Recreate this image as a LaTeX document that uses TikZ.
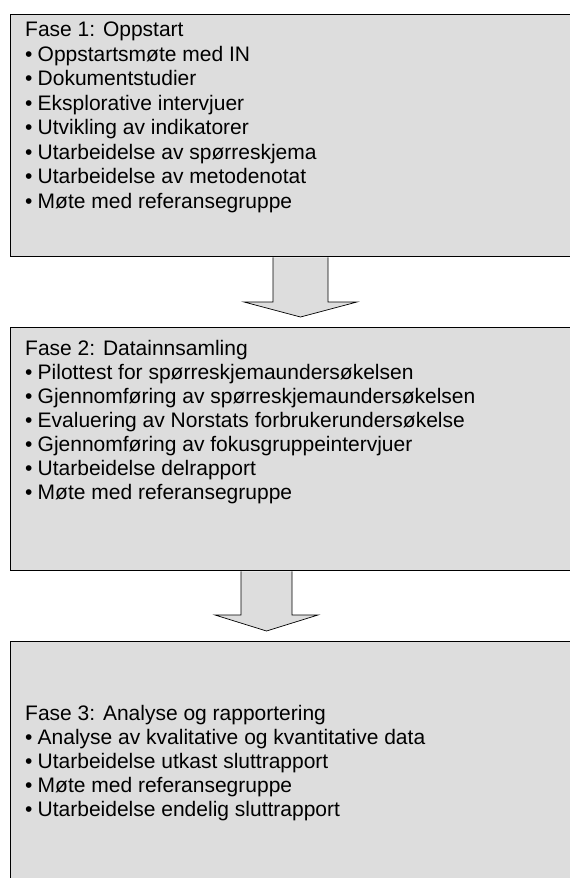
\documentclass[tikz,border=0pt]{standalone}
\usepackage{fontspec}
\setmainfont{Liberation Sans}
\usetikzlibrary{positioning}

\definecolor{boxgray}{HTML}{DDDDDD}
\newcommand{\pkt}{\makebox[12.5pt][l]{•}}

\begin{document}
\begin{tikzpicture}[
          x=1pt, y=-1pt,
          phase/.style={rectangle, draw, line width=1.3pt, fill=boxgray, anchor=north west, minimum width=620pt, inner sep=0pt},
          phasetext/.style={anchor=base west, align=left, inner sep=0pt, font=\fontsize{21}{24}\selectfont},
          blockarrow/.style={draw, line width=0.7pt, fill=boxgray, line join=miter}
      ]
      \useasboundingbox (0,0) rectangle (570,878);
      \clip (0,0) rectangle (570,878);

      % the three phases
      \node[phase, minimum height=242.5pt] (fase1) at (10,13.5) {};
      \node[phase, minimum height=243pt] (fase2) at (10,327) {};
      \node[phase, minimum height=250pt] (fase3) at (10,641) {};

      % text nodes are placed by the baseline of their last line
      \node[phasetext, font=\fontsize{21}{24.5}\selectfont] (tekst1) at (25,208) {Fase 1: Oppstart\\
          \pkt Oppstartsmøte med IN\\
          \pkt Dokumentstudier\\
          \pkt Eksplorative intervjuer\\
          \pkt Utvikling av indikatorer\\
          \pkt Utarbeidelse av spørreskjema\\
          \pkt Utarbeidelse av metodenotat\\
          \pkt Møte med referansegruppe};

      \node[phasetext] (tekst2) at (25,499) {Fase 2: Datainnsamling\\
          \pkt Pilottest for spørreskjemaundersøkelsen\\
          \pkt Gjennomføring av spørreskjemaundersøkelsen\\
          \pkt Evaluering av Norstats forbrukerundersøkelse\\
          \pkt Gjennomføring av fokusgruppeintervjuer\\
          \pkt Utarbeidelse delrapport\\
          \pkt Møte med referansegruppe};

      \node[phasetext] (tekst3) at (25,816) {Fase 3: Analyse og rapportering\\
          \pkt Analyse av kvalitative og kvantitative data\\
          \pkt Utarbeidelse utkast sluttrapport\\
          \pkt Møte med referansegruppe\\
          \pkt Utarbeidelse endelig sluttrapport};

      % block arrows between the phases
      \coordinate (tupp1) at (300.5,317);
      \coordinate (tupp2) at (266.5,631);
      \draw[blockarrow] (fase1.south -| 273,0) -- (273,302) -- (244,302) -- (tupp1)
          -- (357,302) -- (328,302) -- (fase1.south -| 328,0);
      \draw[blockarrow] (fase2.south -| 241,0) -- (241,615) -- (215,615) -- (tupp2)
          -- (318,615) -- (292,615) -- (fase2.south -| 292,0);

  \end{tikzpicture}
\end{document}
